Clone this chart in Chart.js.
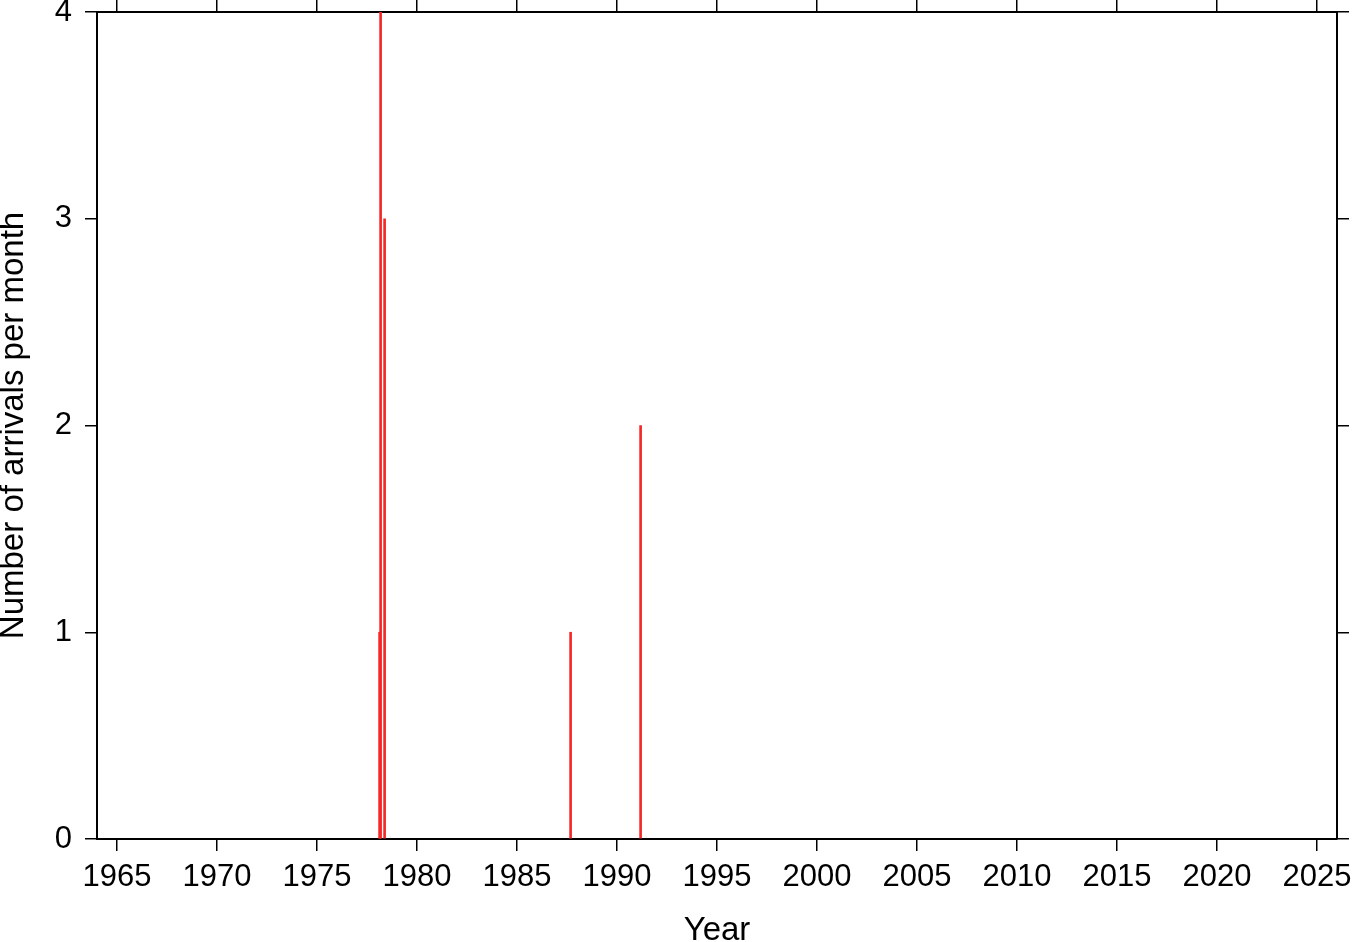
<!DOCTYPE html>
<html>
<head>
<meta charset="utf-8">
<script src="https://cdn.jsdelivr.net/npm/chart.js@4/dist/chart.umd.min.js"></script>
<style>
  html, body { margin: 0; padding: 0; background: #ffffff; }
  #wrap { width: 1363px; height: 942px; }
</style>
</head>
<body>
<div id="wrap"><canvas id="c" width="1363" height="942"></canvas></div>
<script>
// Arrival months (decimal year) and counts per month
const arrivalYears = [1978.18, 1978.13, 1978.38, 1987.68, 1991.18];
const arrivalCounts = [4, 1, 3, 1, 2];
// Axis ticks
const xTickValues = [1965, 1970, 1975, 1980, 1985, 1990, 1995, 2000, 2005, 2010, 2015, 2020, 2025];
const yTickValues = [0, 1, 2, 3, 4];
const xRange = [1964, 2026];
const yRange = [0, 4];

const FONT = '"Liberation Sans", Arial, Helvetica, sans-serif';
const points = arrivalYears.map((x, i) => ({ x: x, y: arrivalCounts[i] }));

function setTicks(values) {
  return function (scale) { scale.ticks = values.map(v => ({ value: v })); };
}
function fixSize(prop, val) {
  return function (s) {
    s[prop] = val;
    s.paddingTop = 0; s.paddingBottom = 0; s.paddingLeft = 0; s.paddingRight = 0;
  };
}

const tickGrid = { drawOnChartArea: false, drawTicks: true, tickLength: 12, color: '#000', lineWidth: 1.5, offset: false };
const border = { display: true, color: '#000', width: 2 };

new Chart(document.getElementById('c'), {
  type: 'bar',
  data: {
    datasets: [{
      data: points,
      backgroundColor: 'rgb(245,40,40)',
      borderWidth: 0,
      barThickness: 2,
      xAxisID: 'x',
      yAxisID: 'y'
    }]
  },
  options: {
    responsive: false,
    animation: false,
    layout: { padding: 0 },
    plugins: { legend: { display: false }, tooltip: { enabled: false } },
    scales: {
      x: {
        type: 'linear', position: 'bottom', min: xRange[0], max: xRange[1], offset: false,
        afterBuildTicks: setTicks(xTickValues),
        afterFit: fixSize('height', 103),
        grid: tickGrid, border: border,
        ticks: { color: '#000', font: { family: FONT, size: 31 }, padding: 8, maxRotation: 0, autoSkip: false,
                 callback: v => String(v) },
        title: { display: true, text: 'Year', color: '#000', font: { family: FONT, size: 33, lineHeight: 0.7 }, padding: 0 }
      },
      x2: {
        type: 'linear', position: 'top', min: xRange[0], max: xRange[1], offset: false,
        afterBuildTicks: setTicks(xTickValues),
        afterFit: fixSize('height', 12),
        grid: tickGrid, border: border,
        ticks: { display: false }
      },
      y: {
        type: 'linear', position: 'left', min: yRange[0], max: yRange[1],
        afterBuildTicks: setTicks(yTickValues),
        afterFit: fixSize('width', 97),
        grid: tickGrid, border: border,
        ticks: { color: '#000', font: { family: FONT, size: 31 }, padding: 13, callback: v => String(v) },
        title: { display: true, text: 'Number of arrivals per month', color: '#000', font: { family: FONT, size: 33, lineHeight: 0.82 }, padding: 0 }
      },
      y2: {
        type: 'linear', position: 'right', min: yRange[0], max: yRange[1],
        afterBuildTicks: setTicks(yTickValues),
        afterFit: fixSize('width', 26),
        grid: tickGrid, border: border,
        ticks: { display: false }
      }
    }
  }
});
</script>
</body>
</html>
